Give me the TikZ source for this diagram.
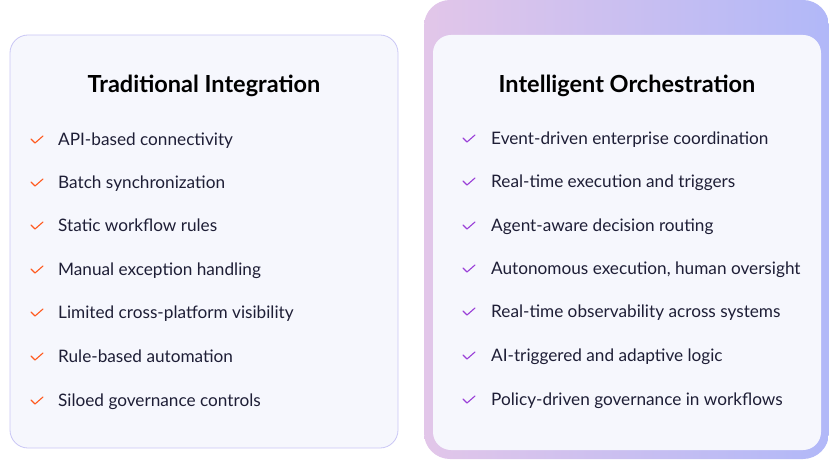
\documentclass[tikz,border=0pt]{standalone}
\usepackage{fontspec}
\setmainfont{Lato}
\usetikzlibrary{positioning}
\definecolor{cardFill}{HTML}{F6F7FD}
\definecolor{cardLine}{HTML}{C9C6F5}
\definecolor{gradPink}{HTML}{E2C6E9}
\definecolor{gradBlue}{HTML}{B1B8F8}
\definecolor{tickOrange}{HTML}{FF5A1F}
\definecolor{tickPurple}{HTML}{9A3FD8}
\definecolor{itemText}{HTML}{1E1E36}
\begin{document}
\begin{tikzpicture}[x=1pt,y=-1pt,
      card/.style={rounded corners=18pt,fill=cardFill},
      title/.style={font=\fontsize{23.5}{28}\selectfont\bfseries,text=black},
      item/.style={anchor=west,font=\fontsize{17.2}{20}\selectfont,text=itemText,
         inner sep=0pt,text height=12.5pt,text depth=3.5pt},
      tick/.style={line width=1.1pt,line cap=round,line join=round}
      ]
      \useasboundingbox (0,0) rectangle (829,462);
      % left card
      \draw[card,draw=cardLine,line width=0.8pt] (10,35) rectangle (398,448);
      \node[title] (tradTitle) at (204,86) {Traditional Integration};
      % right card with gradient frame
      \shade[left color=gradPink,right color=gradBlue,rounded corners=26pt] (424,0) rectangle (829,459);
      \fill[card] (433,35) rectangle (821,450);
      \node[title] (orchTitle) at (627,86) {Intelligent Orchestration};

    \foreach \y/\txt [count=\n] in {%
      141/API-based connectivity,
      184/Batch synchronization,
      227/Static workflow rules,
      271/Manual exception handling,
      314/Limited cross-platform visibility,
      358/Rule-based automation,
      402/Siloed governance controls}
    {
      \draw[tick,tickOrange] (31,\y-2) -- (35,\y+2) -- (43,\y-5);
      \node[item] (trad\n) at (58,\y) {\txt};
    }
    \foreach \y/\txt [count=\n] in {%
      140/Event-driven enterprise coordination,
      183/Real-time execution and triggers,
      227/Agent-aware decision routing,
      270/{Autonomous execution, human oversight},
      313/Real-time observability across systems,
      357/AI-triggered and adaptive logic,
      401/Policy-driven governance in workflows}
    {
      \draw[tick,tickPurple] (463,\y-2) -- (467,\y+2) -- (475,\y-5);
      \node[item] (orch\n) at (491,\y) {\txt};
    }
    \end{tikzpicture}
\end{document}
